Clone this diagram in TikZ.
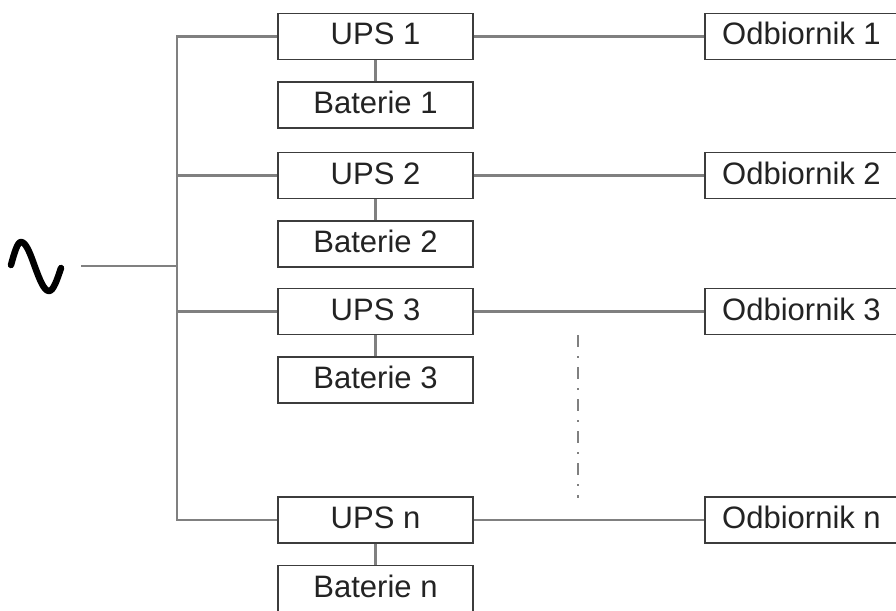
\documentclass[tikz,border=0pt]{standalone}
\usepackage{fontspec}
\setmainfont{Liberation Sans}
\usepackage{tikz}
\usetikzlibrary{positioning}
\definecolor{wiregray}{RGB}{128,128,128}
\definecolor{boxgray}{RGB}{60,60,60}
\definecolor{textgray}{RGB}{35,35,35}
\tikzset{
	box/.style = {
		shape=rectangle,
		draw=boxgray,
		line width=1.6pt,
		fill=white,
		text=textgray,
		font=\fontsize{31}{36}\selectfont,
		minimum width=195pt,
		minimum height=46pt,
		text height=22pt,
		text depth=5pt
	},
	load/.style = {
		box,
		minimum width=193pt
	},
	wire/.style = {
		draw=wiregray,
		line width=2.6pt
	}
}

\begin{document}
\begin{tikzpicture}[x=1pt, y=-1pt]
		\useasboundingbox (0,0) rectangle (896,610);
		% UPS units with their batteries
		\node[box] (ups1) at (375.5,36.5) {UPS 1};
		\node[box, below=21pt of ups1] (bat1) {Baterie 1};
		\node[box] (ups2) at (375.5,175.5) {UPS 2};
		\node[box, below=21pt of ups2] (bat2) {Baterie 2};
		\node[box] (ups3) at (375.5,311.5) {UPS 3};
		\node[box, below=21pt of ups3] (bat3) {Baterie 3};
		\node[box] (upsn) at (375.5,520) {UPS n};
		\node[box, below=21pt of upsn] (batn) {Baterie n};
		% loads
		\node[load] (odb1) at (801.5,36.5) {Odbiornik 1};
		\node[load] (odb2) at (801.5,175.5) {Odbiornik 2};
		\node[load] (odb3) at (801.5,311.5) {Odbiornik 3};
		\node[load] (odbn) at (801.5,520) {Odbiornik n};
		% mains
		\coordinate (src) at (81,266);
		\coordinate (bus) at (177,266);
		\draw[line width=6.5pt, line cap=round, line join=round]
			(11,265) sin (21,242) cos (35,267) sin (49,291) cos (61,268);
		\draw[wire] (src) -- (bus);
		\draw[wire] (ups1.west) -| (bus) |- (upsn.west);
		\draw[wire] (ups2.west) -- (ups2.west -| bus);
		\draw[wire] (ups3.west) -- (ups3.west -| bus);
		\foreach \n in {1,2,3,n} {
			\draw[wire] (ups\n.east) -- (odb\n.west);
			\draw[wire] (ups\n.south) -- (bat\n.north);
		}
		% and so on
		\draw[draw=wiregray, line width=1.5pt, dash pattern=on 12pt off 9pt on 2pt off 9pt]
			(578,335) -- (578,498);
		\end{tikzpicture}
\end{document}
